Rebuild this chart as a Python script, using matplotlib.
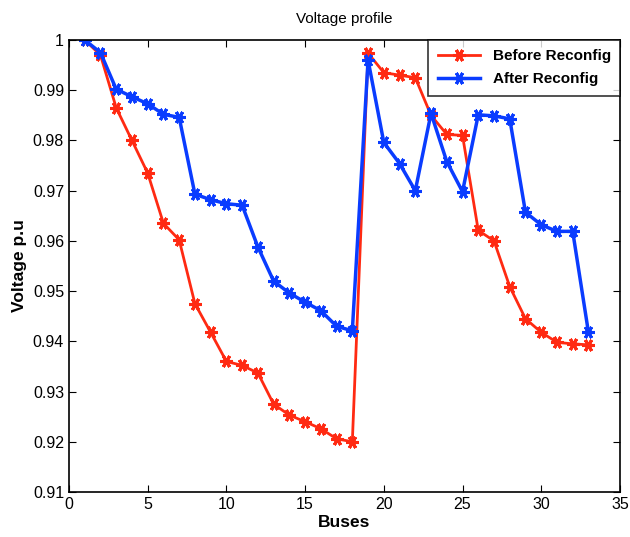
import matplotlib.pyplot as plt

plt.rcParams['font.family'] = ['Liberation Sans Narrow', 'Liberation Sans', 'DejaVu Sans']

# bus index
buses = list(range(1, 34))
# voltage (p.u)
before = [1.0, 0.9970, 0.9865, 0.9800, 0.9735, 0.9635, 0.9602, 0.9475, 0.9418, 0.9360,
          0.9352, 0.9337, 0.9275, 0.9253, 0.9240, 0.9226, 0.9206, 0.9200, 0.9974, 0.9935,
          0.9930, 0.9925, 0.9850, 0.9812, 0.9810, 0.9621, 0.9600, 0.9509, 0.9445, 0.9418,
          0.9398, 0.9395, 0.9393]
after = [1.0, 0.9975, 0.9902, 0.9887, 0.9873, 0.9852, 0.9846, 0.9693, 0.9682, 0.9674,
         0.9671, 0.9588, 0.9520, 0.9496, 0.9478, 0.9461, 0.9430, 0.9421, 0.9960, 0.9796,
         0.9754, 0.9700, 0.9854, 0.9758, 0.9698, 0.9851, 0.9849, 0.9843, 0.9657, 0.9632,
         0.9619, 0.9619, 0.9418]

fig = plt.figure(figsize=(6.3, 5.37), dpi=100)
ax = fig.add_axes([0.1095, 0.0838, 0.8745, 0.8417])

ax.plot(buses, before, color='#ff2a12', lw=2, marker=(6, 2, 90), ms=9, mew=2.2, label='Before Reconfig')
ax.plot(buses, after, color='#0a3cff', lw=2.5, marker=(6, 2, 90), ms=9, mew=2.2, label='After Reconfig')

ax.set_xlim(0, 35)
ax.set_ylim(0.91, 1.0)
ax.set_xticks(range(0, 36, 5))
ax.set_yticks([0.91, 0.92, 0.93, 0.94, 0.95, 0.96, 0.97, 0.98, 0.99, 1.0])
ax.set_yticklabels(['0.91', '0.92', '0.93', '0.94', '0.95', '0.96', '0.97', '0.98', '0.99', '1'])
ax.tick_params(direction='in', top=True, right=True, labelsize=11.5, length=5)
for s in ax.spines.values():
    s.set_linewidth(1.2)

ax.set_title('Voltage profile', fontsize=11, pad=12)
ax.set_xlabel('Buses', fontsize=12.5, fontweight='bold', labelpad=2)
ax.set_ylabel('Voltage p.u', fontsize=12.5, fontweight='bold', labelpad=4)

leg = ax.legend(loc='upper right', fancybox=False, edgecolor='black',
                prop={'weight': 'bold', 'size': 11}, borderaxespad=0, handlelength=2.8,
                borderpad=0.6, labelspacing=0.6)
leg.get_frame().set_linewidth(1.2)

fig.savefig('out.png', dpi=100)
